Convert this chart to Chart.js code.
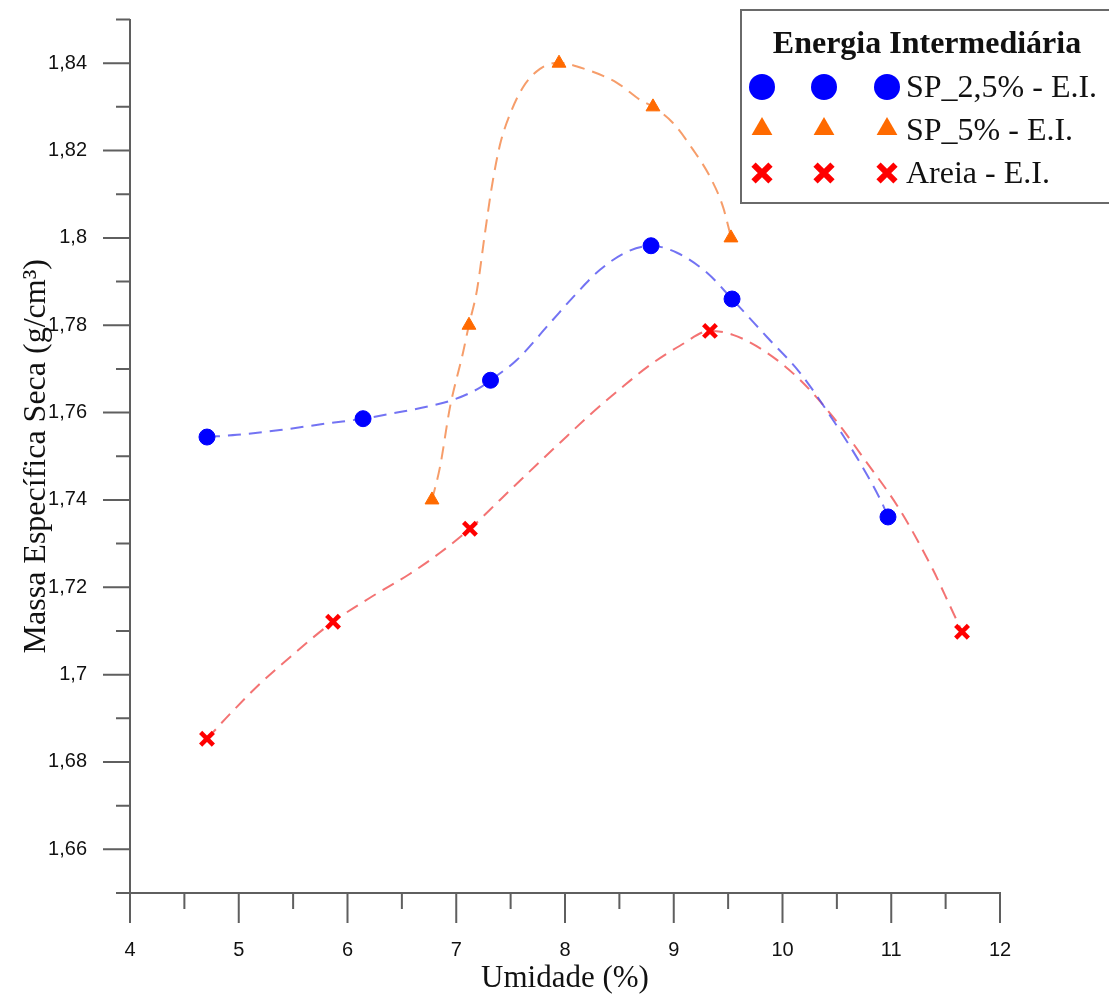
<!DOCTYPE html>
<html>
<head>
<meta charset="utf-8">
<script src="https://cdn.jsdelivr.net/npm/chart.js"></script>
<style>
  html, body { margin: 0; padding: 0; background: #fff; }
  #wrap { width: 1109px; height: 997px; }
</style>
</head>
<body>
<div id="wrap"><canvas id="chart_canvas"></canvas></div>
<script>
// axis ticks
const xTicks = [4, 5, 6, 7, 8, 9, 10, 11, 12];
const xMinorTicks = [4.5, 5.5, 6.5, 7.5, 8.5, 9.5, 10.5, 11.5];
const yTicks = [1.66, 1.68, 1.7, 1.72, 1.74, 1.76, 1.78, 1.8, 1.82, 1.84];
const yMinorTicks = [1.65, 1.67, 1.69, 1.71, 1.73, 1.75, 1.77, 1.79, 1.81, 1.83, 1.85];

// measured points
const sp25X = [4.708, 6.143, 7.315, 8.791, 9.536, 10.970];
const sp25Y = [1.7544, 1.7586, 1.7674, 1.7982, 1.7860, 1.7361];
const sp5X = [6.777, 7.117, 7.945, 8.809, 9.526];
const sp5Y = [1.74, 1.78, 1.84, 1.83, 1.80];
const areiaX = [4.708, 5.867, 7.126, 9.333, 11.651];
const areiaY = [1.6853, 1.7121, 1.7334, 1.7787, 1.7098];

// trend curves
const sp25CurveX = [4.708, 4.984, 5.379, 5.839, 6.143, 6.455, 6.759, 6.970, 7.218, 7.315, 7.559, 7.862, 8.110, 8.322, 8.570, 8.791, 9.030, 9.306, 9.536, 9.857, 10.161, 10.464, 10.713, 10.915, 10.970];
const sp25CurveY = [1.7544, 1.7549, 1.7560, 1.7576, 1.7586, 1.7600, 1.7615, 1.7629, 1.7657, 1.7674, 1.7721, 1.7805, 1.7874, 1.7927, 1.7968, 1.7982, 1.7966, 1.7920, 1.7860, 1.7773, 1.7691, 1.7583, 1.7485, 1.7393, 1.7361];
const sp5CurveX = [6.777, 6.851, 6.943, 7.062, 7.117, 7.191, 7.264, 7.329, 7.402, 7.494, 7.614, 7.770, 7.936, 8.202, 8.478, 8.690, 8.809, 8.993, 9.177, 9.333, 9.453, 9.526];
const sp5CurveY = [1.7400, 1.7476, 1.7613, 1.7737, 1.7801, 1.7881, 1.8011, 1.8120, 1.8213, 1.8283, 1.8345, 1.8387, 1.8401, 1.8385, 1.8355, 1.8316, 1.8300, 1.8263, 1.8202, 1.8140, 1.8071, 1.8002];
const areiaCurveX = [4.708, 4.920, 5.195, 5.471, 5.867, 6.207, 6.575, 6.851, 7.126, 7.402, 7.678, 7.954, 8.230, 8.506, 8.782, 9.057, 9.333, 9.545, 9.857, 10.161, 10.464, 10.777, 11.080, 11.384, 11.494, 11.651];
const areiaCurveY = [1.6853, 1.6910, 1.6979, 1.7040, 1.7121, 1.7176, 1.7231, 1.7279, 1.7334, 1.7400, 1.7466, 1.7531, 1.7595, 1.7654, 1.7709, 1.7753, 1.7787, 1.7778, 1.7737, 1.7675, 1.7590, 1.7485, 1.7377, 1.7240, 1.7182, 1.7098];

const legendTitle = 'Energia Intermediária';
const seriesNames = ['SP_2,5% - E.I.', 'SP_5% - E.I.', 'Areia - E.I.'];

const axisColor = '#5f5f5f';
const blue = '#0000ff', orange = '#ff6a00', red = '#ff0000';

function toPoints(xs, ys) {
    return xs.map((x, i) => ({ x: x, y: ys[i] }));
}

function markerSet(label, xs, ys, style, color, radius, bw) {
    return {
        label: label,
        data: toPoints(xs, ys),
        showLine: false,
        pointStyle: style,
        pointRadius: radius,
        pointBackgroundColor: color,
        pointBorderColor: color,
        pointBorderWidth: bw,
        order: 0
    };
}

function curveSet(xs, ys, color) {
    return {
        data: toPoints(xs, ys),
        showLine: true,
        pointRadius: 0,
        borderColor: color,
        borderWidth: 2,
        borderDash: [13, 8],
        cubicInterpolationMode: 'monotone',
        order: 1
    };
}

function drawMarker(ctx, style, color, x, y, r) {
    ctx.save();
    ctx.fillStyle = color;
    ctx.strokeStyle = color;
    ctx.beginPath();
    if (style == 'circle') {
        ctx.arc(x, y, r, 0, Math.PI * 2);
        ctx.fill();
    } else if (style == 'triangle') {
        ctx.moveTo(x, y - r);
        ctx.lineTo(x + r * 0.866, y + r / 2);
        ctx.lineTo(x - r * 0.866, y + r / 2);
        ctx.closePath();
        ctx.fill();
    } else {
        ctx.lineWidth = 6;
        const d = r * 0.707;
        ctx.moveTo(x - d, y - d); ctx.lineTo(x + d, y + d);
        ctx.moveTo(x + d, y - d); ctx.lineTo(x - d, y + d);
        ctx.stroke();
    }
    ctx.restore();
}

// major and minor tick marks on both axes
const tickMarks = {
    id: 'tickMarks',
    afterDraw(chart) {
        const ctx = chart.ctx;
        const x = chart.scales.x, y = chart.scales.y;
        const left = chart.chartArea.left, bottom = chart.chartArea.bottom;
        ctx.save();
        ctx.strokeStyle = axisColor;
        ctx.lineWidth = 2;
        ctx.beginPath();
        xTicks.forEach(v => { const p = x.getPixelForValue(v); ctx.moveTo(p, bottom); ctx.lineTo(p, bottom + 30); });
        xMinorTicks.forEach(v => { const p = x.getPixelForValue(v); ctx.moveTo(p, bottom); ctx.lineTo(p, bottom + 16); });
        yTicks.forEach(v => { const p = y.getPixelForValue(v); ctx.moveTo(left, p); ctx.lineTo(left - 27, p); });
        yMinorTicks.forEach(v => { const p = y.getPixelForValue(v); ctx.moveTo(left, p); ctx.lineTo(left - 14, p); });
        ctx.stroke();
        ctx.restore();
    }
};

// legend box with three markers per row
const boxLegend = {
    id: 'boxLegend',
    afterDraw(chart) {
        const ctx = chart.ctx;
        ctx.save();
        ctx.strokeStyle = '#6a6a6a';
        ctx.lineWidth = 2;
        ctx.strokeRect(741, 10, 380, 193);

        ctx.fillStyle = '#111';
        ctx.font = 'bold 32px "Liberation Serif"';
        ctx.textAlign = 'center';
        ctx.textBaseline = 'alphabetic';
        ctx.fillText(legendTitle, 927, 53);

        const styles = ['circle', 'triangle', 'crossRot'];
        const colors = [blue, orange, red];
        const sizes = [13, 12, 12];
        const rows = [87, 129, 173];
        const bases = [97, 140, 183];
        ctx.font = '32px "Liberation Serif"';
        ctx.textAlign = 'left';
        rows.forEach((ry, i) => {
            [762, 824, 887].forEach(mx => drawMarker(ctx, styles[i], colors[i], mx, ry, sizes[i]));
            ctx.fillStyle = '#111';
            ctx.fillText(seriesNames[i], 906, bases[i]);
        });
        ctx.restore();
    }
};

const ctx = document.getElementById('chart_canvas').getContext('2d');
const chart = new Chart(ctx, {
    type: 'scatter',
    data: {
        datasets: [
            markerSet(seriesNames[0], sp25X, sp25Y, 'circle', blue, 8, 1),
            markerSet(seriesNames[1], sp5X, sp5Y, 'triangle', orange, 8, 1),
            markerSet(seriesNames[2], areiaX, areiaY, 'crossRot', red, 9, 4.5),
            curveSet(sp25CurveX, sp25CurveY, 'rgba(80, 80, 240, 0.8)'),
            curveSet(sp5CurveX, sp5CurveY, 'rgba(245, 140, 80, 0.85)'),
            curveSet(areiaCurveX, areiaCurveY, 'rgba(240, 80, 80, 0.8)')
        ]
    },
    options: {
        responsive: true,
        maintainAspectRatio: false,
        animation: false,
        layout: { padding: { top: 19.5, right: 109, left: 0, bottom: 0 } },
        plugins: {
            legend: { display: false },
            tooltip: { enabled: false }
        },
        scales: {
            x: {
                type: 'linear',
                min: 4,
                max: 12,
                afterBuildTicks: s => { s.ticks = xTicks.map(v => ({ value: v })); },
                afterFit: s => { s.height = 104; s.paddingLeft = 0; s.paddingRight = 0; },
                grid: { display: false, drawTicks: false },
                border: { display: true, color: axisColor, width: 2 },
                ticks: {
                    padding: 45,
                    color: '#111',
                    font: { family: '"Liberation Sans"', size: 20 },
                    maxRotation: 0
                },
                title: {
                    display: true,
                    text: 'Umidade (%)',
                    color: '#111',
                    font: { family: '"Liberation Serif"', size: 31 },
                    padding: { top: 0, bottom: 0 }
                }
            },
            y: {
                type: 'linear',
                min: 1.65,
                max: 1.85,
                afterBuildTicks: s => { s.ticks = yTicks.map(v => ({ value: v })); },
                afterFit: s => { s.width = 130; s.paddingTop = 0; s.paddingBottom = 0; },
                grid: { display: false, drawTicks: false },
                border: { display: true, color: axisColor, width: 2 },
                ticks: {
                    padding: 43,
                    color: '#111',
                    font: { family: '"Liberation Sans"', size: 20 },
                    callback: v => String(v).replace('.', ',')
                },
                title: {
                    display: true,
                    text: 'Massa Específica Seca (g/cm³)',
                    color: '#111',
                    font: { family: '"Liberation Serif"', size: 32 },
                    padding: { top: 17, bottom: 0 }
                }
            }
        }
    },
    plugins: [tickMarks, boxLegend]
});
</script>
</body>
</html>
